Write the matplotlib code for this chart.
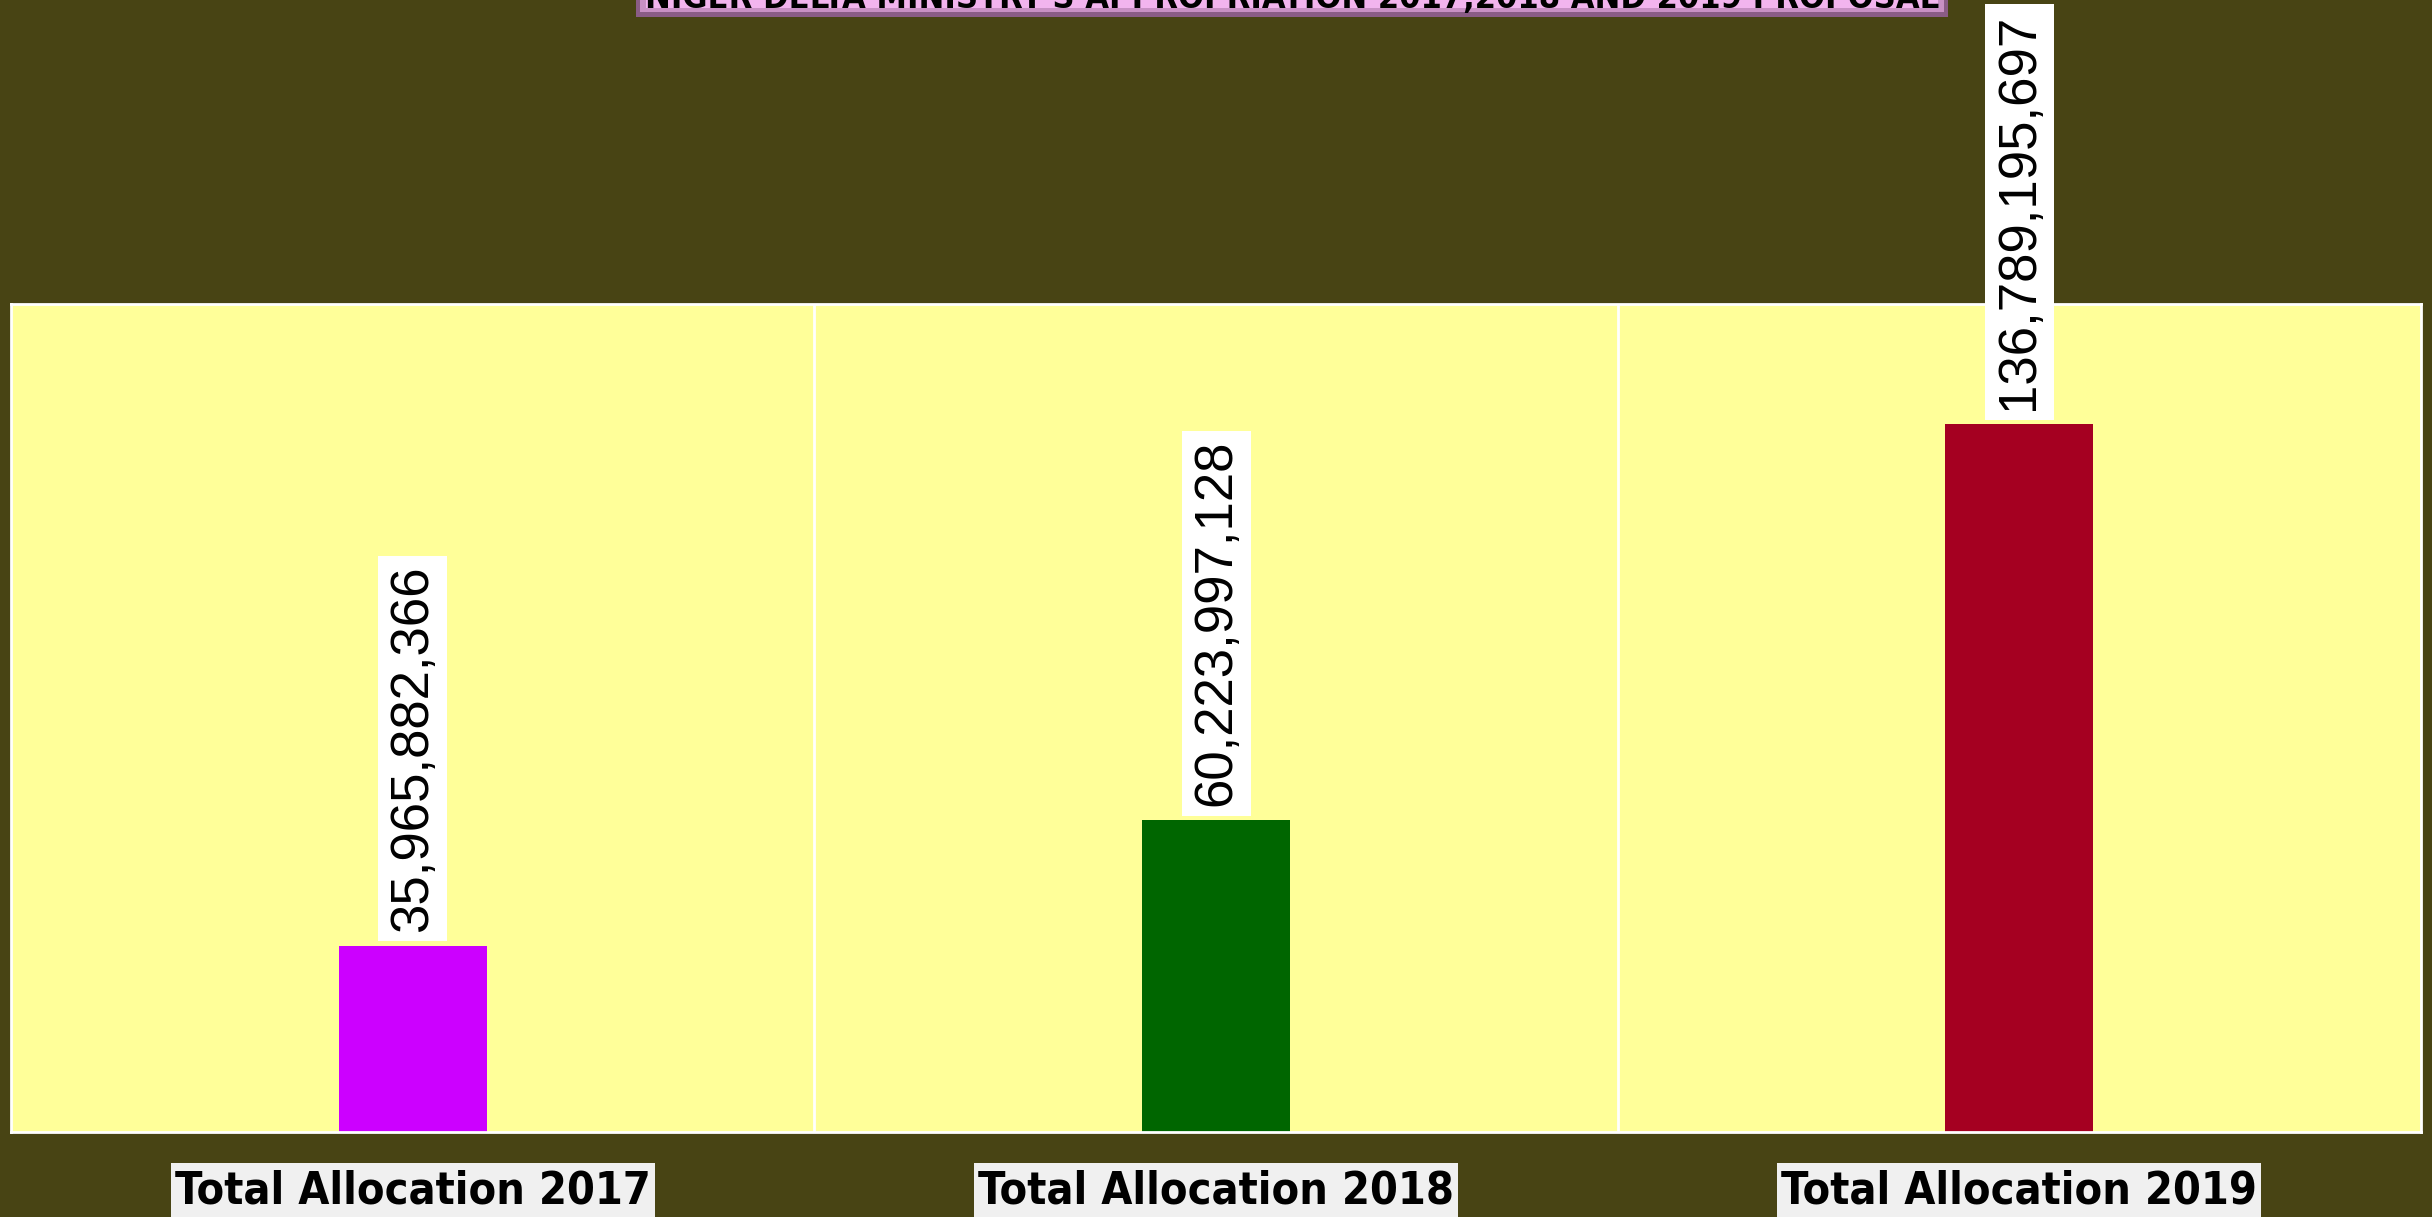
import matplotlib
matplotlib.use("Agg")
import matplotlib.pyplot as plt
from matplotlib import font_manager
from matplotlib.patches import Rectangle

# data
categories = ["Total Allocation 2017", "Total Allocation 2018", "Total Allocation 2019"]
values = [35965882366, 60223997128, 136789195697]
bar_colors = ["#cc00ff", "#006600", "#a50021"]
title = "NIGER DELTA MINISTRY'S APPROPRIATION 2017,2018 AND 2019 PROPOSAL"

W, H = 2432, 1217
bg = "#484414"

# pick a narrow bold face if one is installed
names = {f.name for f in font_manager.fontManager.ttflist}
stretches = {(f.name, f.stretch) for f in font_manager.fontManager.ttflist}
narrow = dict(family=["Lato", "DejaVu Sans"], fontstretch="normal")
if "Liberation Sans Narrow" in names:
    narrow = dict(family=["Liberation Sans Narrow", "DejaVu Sans"], fontstretch="normal")
elif any(n == "DejaVu Sans" and s in ("condensed", "semi-condensed") for n, s in stretches):
    narrow = dict(family=["DejaVu Sans"], fontstretch="condensed")

fig = plt.figure(figsize=(W / 100, H / 100), dpi=100, facecolor=bg)
ax = fig.add_axes([11 / W, 85 / H, 2410 / W, 828 / H])
ax.set_facecolor("#ffff99")

x = list(range(len(categories)))
ax.bar(x, values, width=0.184, color=bar_colors, zorder=2)
ax.set_xlim(-0.5, len(categories) - 0.5)
ax.set_ylim(0, 160e9)

# white separators between categories
for b in [0.5, 1.5]:
    ax.axvline(b, color="white", lw=2, zorder=1)
for s in ax.spines.values():
    s.set_color("white")
    s.set_linewidth(2)

ax.set_yticks([])
ax.set_xticks(x)
ax.set_xticklabels(categories, fontweight="bold", fontsize=40, color="black", **narrow)
ax.tick_params(axis="x", length=0, pad=27)

# value labels
for xi, v in zip(x, values):
    ax.annotate(f"{v:,}", (xi, v), xytext=(0, 10), textcoords="offset points",
                rotation=90, ha="center", va="bottom", fontsize=38,
                family=["Liberation Sans", "DejaVu Sans"], color="black",
                bbox=dict(facecolor="white", edgecolor="none", pad=7),
                annotation_clip=False, zorder=3)

# title banner (mostly cut off at the top)
def px(x0, y0, w, h):
    return (x0 / W, 1 - (y0 + h) / H), w / W, h / H

(xy, w, h) = px(636, -40, 1312, 57)
fig.patches.append(Rectangle(xy, w, h, transform=fig.transFigure,
                             facecolor="#8a5c86", edgecolor="none"))
(xy, w, h) = px(640, -40, 1304, 52)
fig.patches.append(Rectangle(xy, w, h, transform=fig.transFigure,
                             facecolor="#c890c4", edgecolor="none"))
(xy, w, h) = px(646, -40, 1292, 48)
fig.patches.append(Rectangle(xy, w, h, transform=fig.transFigure,
                             facecolor="#f2b4ee", edgecolor="none"))

t = fig.text(1292 / W, 1 - 8 / H, title, ha="center", va="baseline",
             fontsize=30, fontweight="bold", color="black", **narrow)

# fit text widths to the reference
fig.canvas.draw()
ext = t.get_window_extent()
t.set_fontsize(30 * 1291 / ext.width)
lab0 = ax.get_xticklabels()[0]
scale = 476 / lab0.get_window_extent().width
for lab in ax.get_xticklabels():
    lab.set_fontsize(40 * scale)

# light grey boxes behind the category labels, running off the bottom edge
fig.canvas.draw()
for lab in ax.get_xticklabels():
    e = lab.get_window_extent()
    fig.patches.append(Rectangle((e.x0 - 4, -20), e.width + 8, (H - 1163) + 20,
                                 transform=None, facecolor="#f0f0f0",
                                 edgecolor="none", zorder=-1))

fig.savefig("out.png", dpi=100, facecolor=bg)
